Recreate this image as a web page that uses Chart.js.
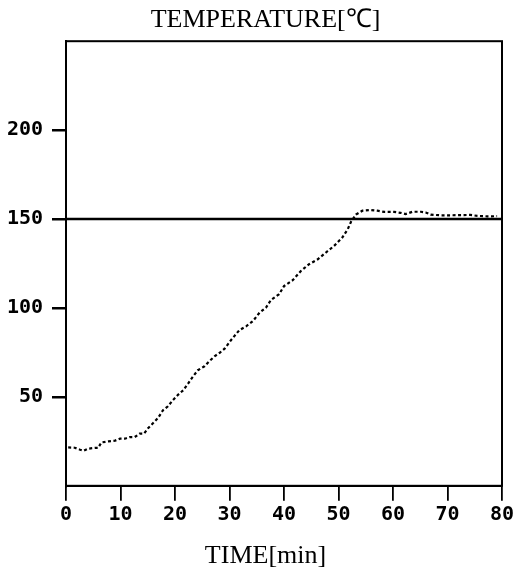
<!DOCTYPE html>
<html><head><meta charset="utf-8">
<script src="https://cdn.jsdelivr.net/npm/chart.js@4.4.1/dist/chart.umd.min.js"></script>
<style>html,body{margin:0;padding:0;background:#fff}</style>
</head><body>
<canvas id="c" width="531" height="574"></canvas>
<script>
// Data
const timeMin = [0.4,1.6,2.6,3.2,4.1,5.3,5.9,6.5,7.8,9.0,9.9,10.8,11.7,12.6,13.5,14.3,15.1,16.0,16.9,17.8,18.7,19.6,20.6,21.5,22.4,23.3,24.2,25.4,26.3,27.3,28.2,29.1,30.3,31.8,33.1,34.3,35.5,36.7,37.6,39.1,40.0,41.6,43.1,44.6,46.2,47.7,49.2,50.7,51.7,52.3,53.2,54.4,55.9,57.1,58.4,60.2,61.4,62.3,63.6,65.1,66.0,66.9,68.7,70.6,72.4,74.2,75.5,77.3,79.1];
const tempC = [21.6,21.4,20.3,19.7,20.9,21.3,21.3,24.4,25.0,25.4,26.5,26.5,27.4,27.4,29.3,29.3,32.5,35.3,38.2,42.5,44.7,48.1,51.3,53.7,57.5,61.5,65.0,67.2,70.1,72.9,74.8,77.1,82.0,87.5,89.8,92.6,97.3,100.2,104.5,107.7,112.3,115.6,120.8,124.6,127.4,131.2,134.9,139.6,144.3,148.5,152.5,154.7,155.1,154.7,154.0,154.0,153.5,152.8,154.1,154.1,153.7,152.5,152.1,152.1,152.2,152.3,151.8,151.5,151.6];
const refTime = [0, 80];
const refTemp = [150, 150];
const xTickValues = [0,10,20,30,40,50,60,70,80];
const yTickValues = [50,100,150,200];
const titleText = 'TEMPERATURE[℃]';
const xTitleText = 'TIME[min]';

const tickFont = {family:'DejaVu Sans Mono', size:20, weight:'bold'};
const serifFont = {family:'Liberation Serif', size:26, weight:'normal'};

const boxPlugin = {
  id:'box',
  afterDatasetsDraw(chart){
    const a = chart.chartArea, ctx = chart.ctx;
    ctx.save();
    ctx.strokeStyle = '#000';
    ctx.lineWidth = 2;
    ctx.strokeRect(a.left, a.top, a.right - a.left, a.bottom - a.top);
    ctx.restore();
  }
};

new Chart(document.getElementById('c'), {
  type:'line',
  data:{
    datasets:[
      {
        data: refTime.map((t,i)=>({x:t, y:refTemp[i]})),
        borderColor:'#000', borderWidth:2.5, pointRadius:0, tension:0
      },
      {
        data: timeMin.map((t,i)=>({x:t, y:tempC[i]})),
        borderColor:'#000', borderWidth:2.2, borderDash:[3,2.5], pointRadius:0, tension:0
      }
    ]
  },
  options:{
    responsive:false, animation:false, devicePixelRatio:1,
    layout:{padding:0},
    plugins:{
      legend:{display:false}, tooltip:{enabled:false},
      title:{display:true, text:titleText, color:'#000', font:serifFont, padding:{top:5,bottom:5}},
      subtitle:{display:true, position:'bottom', text:xTitleText, color:'#000', font:serifFont, padding:{top:0,bottom:2}}
    },
    scales:{
      x:{
        type:'linear', min:0, max:80,
        afterBuildTicks(s){ s.ticks = xTickValues.map(v=>({value:v})); },
        afterFit(s){ s.height = 55; },
        grid:{drawOnChartArea:false, drawTicks:true, tickLength:15, color:'#000', lineWidth:1.8},
        border:{display:true, color:'#000', width:2},
        ticks:{color:'#000', font:tickFont, padding:2, maxRotation:0, autoSkip:false}
      },
      y:{
        min:0, max:250,
        afterBuildTicks(s){ s.ticks = yTickValues.map(v=>({value:v})); },
        afterFit(s){ s.width = 66; },
        grid:{drawOnChartArea:false, drawTicks:true, tickLength:14, color:'#000', lineWidth:2.5},
        border:{display:true, color:'#000', width:2},
        ticks:{color:'#000', font:tickFont, padding:9}
      },
      yRight:{
        position:'right', display:true, min:0, max:250,
        afterFit(s){ s.width = 29; },
        grid:{display:false, drawTicks:false}, border:{display:false},
        ticks:{display:false}
      }
    }
  },
  plugins:[boxPlugin]
});
</script>
</body></html>
